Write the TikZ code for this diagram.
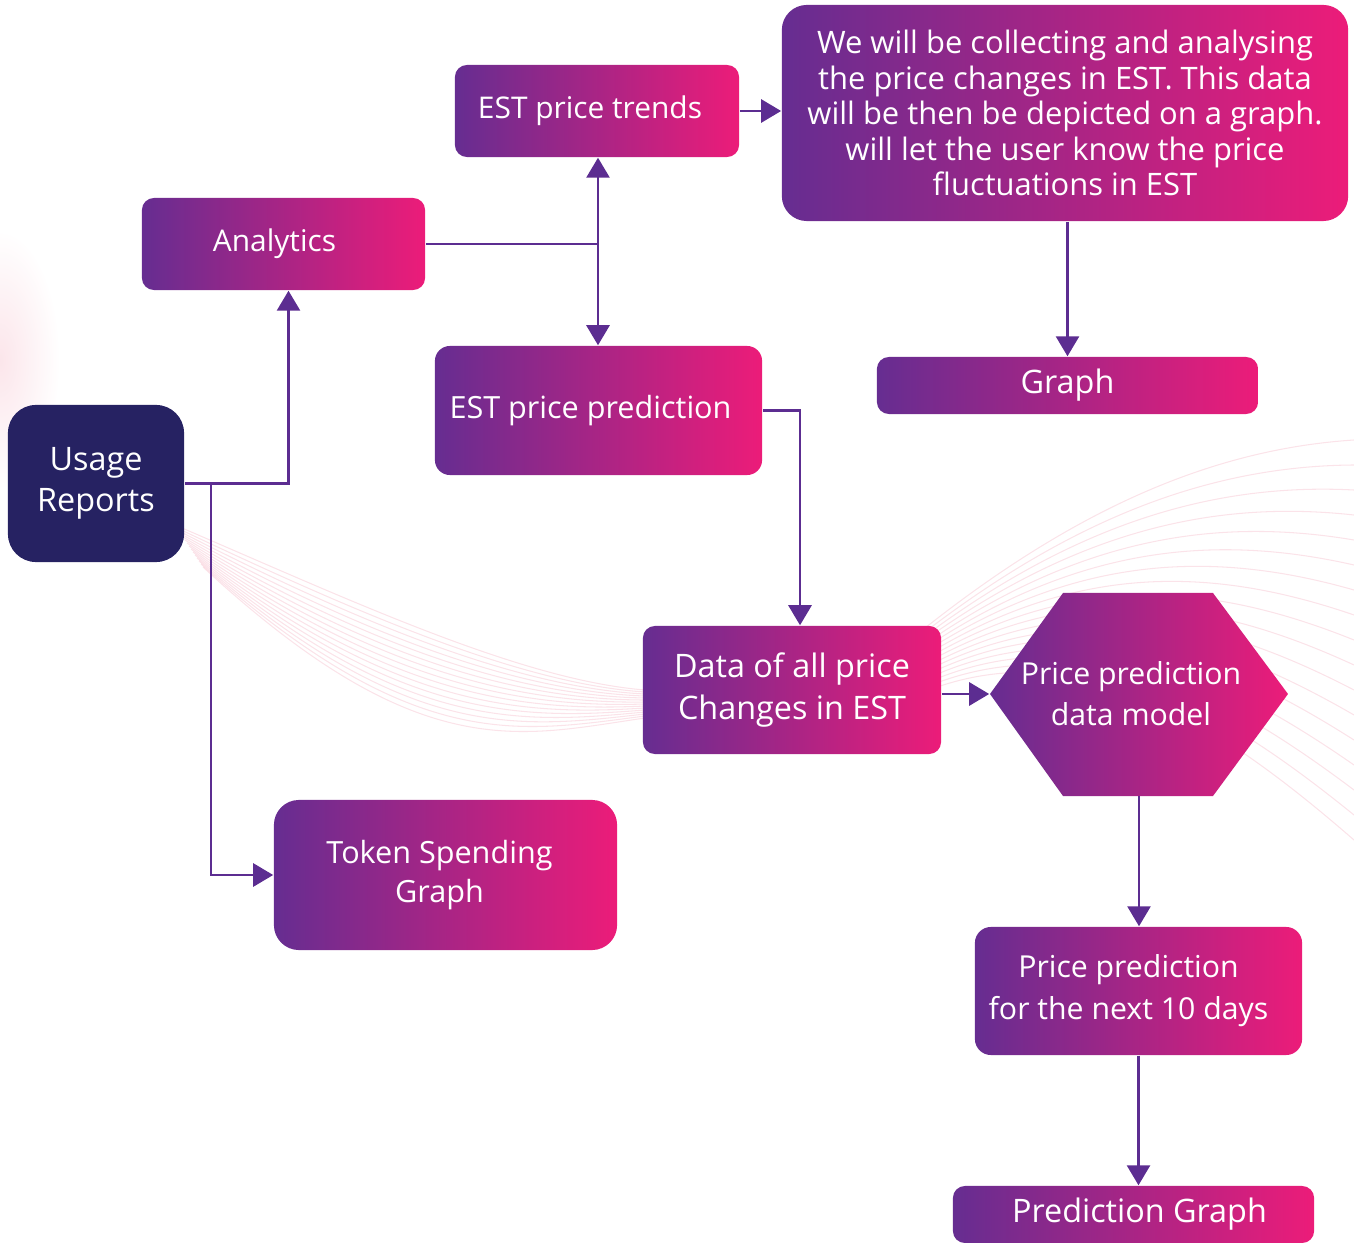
\documentclass[tikz,border=0pt]{standalone}
\usepackage{fontspec}
\setmainfont{Open Sans}
\usetikzlibrary{arrows.meta,positioning}
\definecolor{flowpurple}{HTML}{662D91}
\definecolor{flowpink}{HTML}{EC1C79}
\definecolor{linkpurple}{HTML}{5C2D91}
\definecolor{navy}{HTML}{262262}
\definecolor{wavepink}{HTML}{F2A3B6}

\begin{document}
\begin{tikzpicture}[x=0.01cm, y=-0.01cm,
  box/.style={rounded corners=0.12cm, left color=flowpurple, right color=flowpink,
    text=white, align=center, inner sep=0pt,
    font=\fontsize{8.5}{10.1}\selectfont},
  bigtext/.style={font=\fontsize{9.2}{11.8}\selectfont},
  link/.style={draw=linkpurple, line width=0.8pt,
    -{Triangle[length=0.2cm,width=0.23cm]}},
  plainlink/.style={draw=linkpurple, line width=0.8pt},
  wave/.style={draw=wavepink, line width=0.3pt, opacity=0.3}]
\useasboundingbox (0,0) rectangle (1354,1243);

% faint background waves
\shade[inner color=wavepink!70, outer color=white, opacity=0.4] (0,360) ellipse (0.6cm and 1.3cm);
\foreach \k in {0,...,14}
  \draw[wave] (175+\k*2,525+\k*3) .. controls (350+\k*5,600+\k*12) and (520,680+\k*4) .. (645,690+\k*2);
\foreach \k in {0,...,16}
  \draw[wave] (880,665+\k*3) .. controls (1050,520+\k*6) and (1200,450+\k*16) .. (1354,440+\k*25);

% boxes
\node[box, rounded corners=0.28cm, left color=navy, right color=navy,
  minimum width=1.76cm, minimum height=1.57cm, bigtext] (usage) at (96,483.5) {Usage\\Reports};
\node[box, minimum width=2.83cm, minimum height=0.92cm] (analytics) at (283.5,244) {\hspace*{-0.18cm}Analytics};
\node[box, minimum width=2.84cm, minimum height=0.92cm] (trends) at (597,111) {\hspace*{-0.14cm}EST price trends};
\node[box, rounded corners=0.25cm, minimum width=5.66cm, minimum height=2.16cm,
  font=\fontsize{8.8}{10.1}\selectfont] (notes) at (1065,113)
  {We will be collecting and analysing\\the price changes in EST. This data\\will be then be depicted on a graph.\\will let the user know the price\\fluctuations in EST};
\node[box, rounded corners=0.15cm, minimum width=3.27cm, minimum height=1.29cm,
  font=\fontsize{8.7}{10.1}\selectfont] (predict) at (598.5,410.5) {\hspace*{-0.16cm}EST price prediction};
\node[box, minimum width=3.81cm, minimum height=0.57cm, bigtext] (graph) at (1067.5,385.5) {Graph};
\node[box, minimum width=2.98cm, minimum height=1.28cm, bigtext] (data) at (792,690) {Data of all price\\Changes in EST};
\shade[left color=flowpurple, right color=flowpink]
  (990,694) -- (1063,593) -- (1213,593) -- (1288,694) -- (1213,796) -- (1063,796) -- cycle;
\node[text=white, align=center, inner sep=0pt, minimum width=2.98cm, minimum height=2.03cm,
  font=\fontsize{8.6}{11.6}\selectfont] (model) at (1139,694) {\hspace*{-0.16cm}Price prediction\\\hspace*{-0.16cm}data model};
\node[box, rounded corners=0.25cm, minimum width=3.43cm, minimum height=1.5cm,
  font=\fontsize{8.7}{11}\selectfont] (tokens) at (445.5,875) {\hspace*{-0.12cm}Token Spending\\\hspace*{-0.12cm}Graph};
\node[box, rounded corners=0.16cm, minimum width=3.27cm, minimum height=1.28cm,
  font=\fontsize{8.6}{12}\selectfont] (tendays) at (1138.5,991) {\hspace*{-0.2cm}Price prediction\\\hspace*{-0.2cm}for the next 10 days};
\node[box, minimum width=3.61cm, minimum height=0.57cm, bigtext] (predgraph) at (1133.5,1214.5) {\hspace*{0.12cm}Prediction Graph};

% connectors
\coordinate (split) at (211,484);
\coordinate (fork) at (598,244);
\draw[link] (usage.east) -| ([xshift=0.05cm]analytics.south);
\draw[link] (split) |- (tokens.west);
\draw[plainlink] (analytics.east) -- (fork);
\draw[link] (fork) -- (fork |- trends.south);
\draw[link] (fork) -- (fork |- predict.north);
\draw[link] (trends.east) -- (trends.east -| notes.west);
\draw[link] (graph.north |- notes.south) -- (graph.north);
\draw[link] (predict.east) -| ([xshift=0.08cm]data.north);
\draw[link] (model.west -| data.east) -- (model.west);
\draw[link] (model.south) -- (model.south |- tendays.north);
\draw[link] (tendays.south) -- (tendays.south |- predgraph.north);
\end{tikzpicture}
\end{document}
